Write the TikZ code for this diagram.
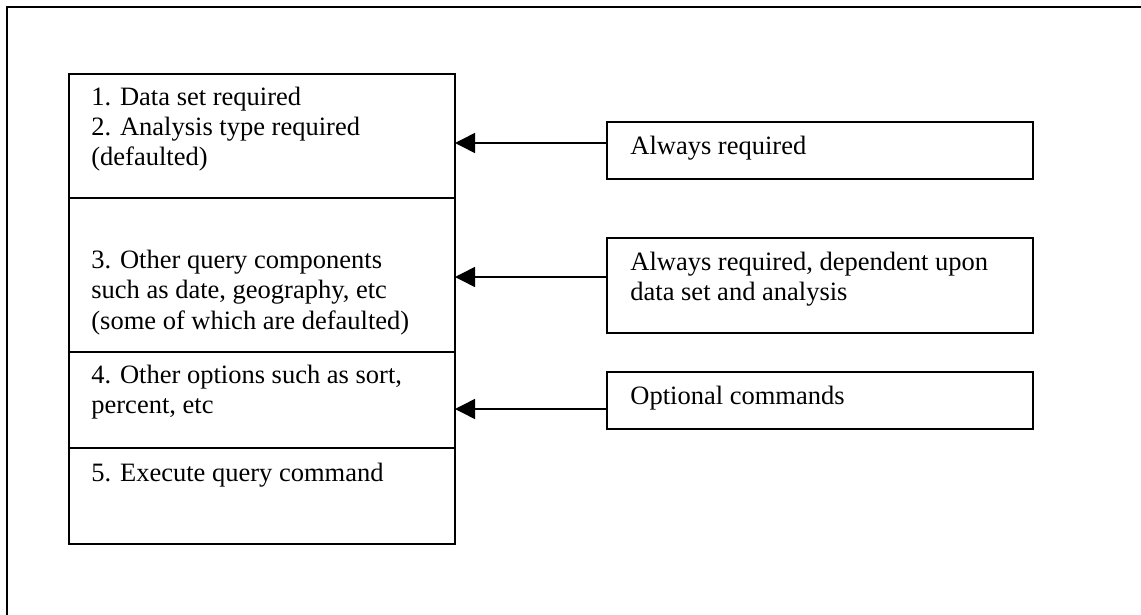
\documentclass[tikz,border=0pt]{standalone}
\usepackage{fontspec}
\setmainfont{Liberation Serif}
\usetikzlibrary{positioning,arrows.meta}

\begin{document}
\begin{tikzpicture}[x=0.5pt,y=-0.5pt,
        part/.style={draw, line width=1pt, outer sep=0pt, inner sep=0pt, minimum width=193pt},
        note/.style={draw, line width=1pt, outer sep=0pt, inner sep=0pt, minimum width=213pt},
        txt/.style={font=\fontsize{13.25}{15.25}\selectfont, align=left, inner sep=0pt, anchor=base west},
        arr/.style={-{Triangle[length=10pt,width=10pt]}, line width=0.75pt}]
        \useasboundingbox (0,0) rectangle (1141,615);
        \draw[line width=0.75pt] (7,615) -- (7,7) -- (1141,7);

        \node[part, minimum height=62pt, anchor=north west] (s1) at (69,74) {};
        \node[part, minimum height=77pt, below=0pt of s1] (s2) {};
        \node[part, minimum height=48pt, below=0pt of s2] (s3) {};
        \node[part, minimum height=48pt, below=0pt of s3] (s4) {};

        \node[note, minimum height=28.5pt, anchor=north west] (r1) at (607,122) {};
        \node[note, minimum height=47.5pt, below=29.5pt of r1] (r2) {};
        \node[note, minimum height=28.5pt, below=19.5pt of r2] (r3) {};

        % base anchor sits on the last line
        \node[txt] (t1) at ([shift={(22,92)}]s1.north west) {1. Data set required\\2. Analysis type required\\(defaulted)};
        \node[txt] (t2) at ([shift={(22,131)}]s2.north west) {3. Other query components\\such as date, geography, etc\\(some of which are defaulted)};
        \node[txt] (t3) at ([shift={(22,61.5)}]s3.north west) {4. Other options such as sort,\\percent, etc};
        \node[txt] (t4) at ([shift={(22,33)}]s4.north west) {5. Execute query command};

        \node[txt] (u1) at ([shift={(23,33)}]r1.north west) {Always required};
        \node[txt] (u2) at ([shift={(23,62.5)}]r2.north west) {Always required, dependent upon\\data set and analysis};
        \node[txt] (u3) at ([shift={(23,32)}]r3.north west) {Optional commands};

        \coordinate (a1) at ([yshift=3.75pt]r1.west);
        \coordinate (a2) at ([yshift=4.25pt]r2.west);
        \coordinate (a3) at ([yshift=-4.25pt]r3.west);
        \draw[arr] (a1) -- (a1 -| s1.east);
        \draw[arr] (a2) -- (a2 -| s2.east);
        \draw[arr] (a3) -- (a3 -| s3.east);
    \end{tikzpicture}
\end{document}
